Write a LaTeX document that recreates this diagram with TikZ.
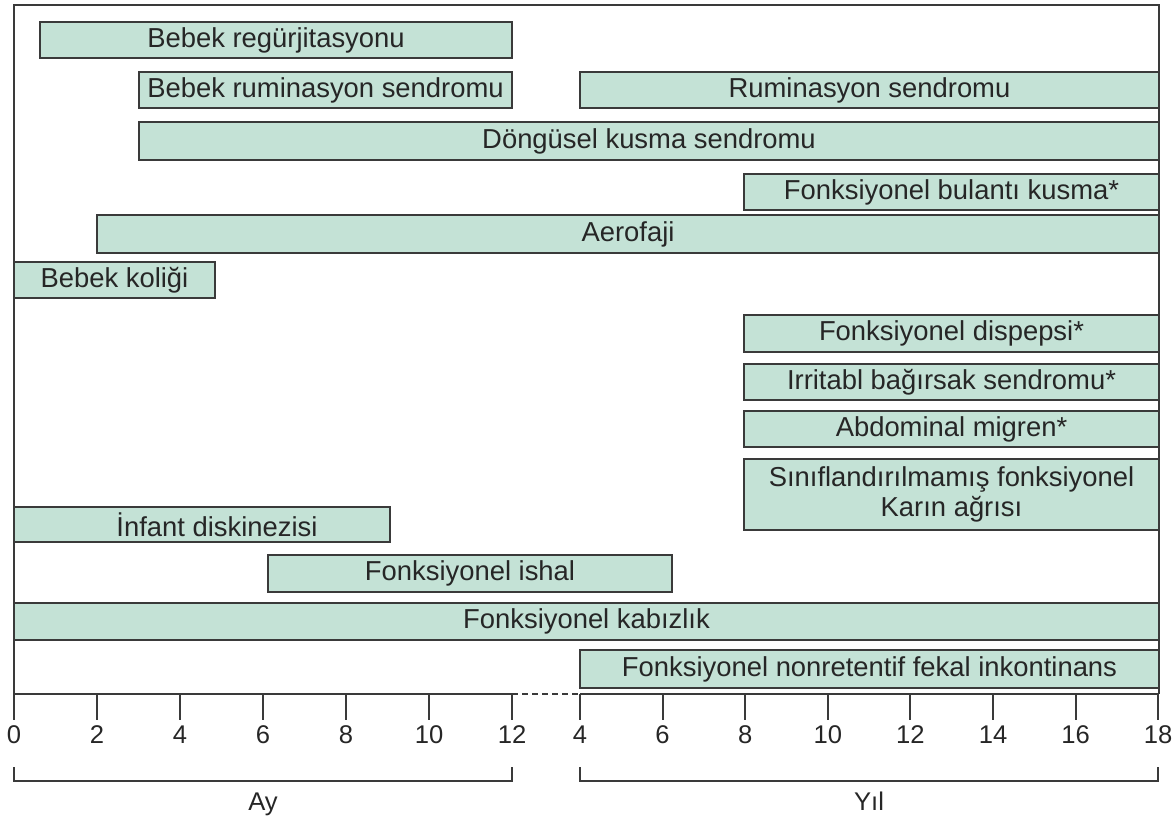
\documentclass[tikz,border=0pt]{standalone}
\usepackage{fontspec}
\setmainfont{Liberation Sans}
\usetikzlibrary{positioning}
\definecolor{fmint}{HTML}{C4E2D6}
\definecolor{fline}{HTML}{3A3A3A}
\definecolor{ftext}{HTML}{262626}
\tikzset{
  band/.style      = {draw=fline, fill=fmint, line width=1pt},
  bandtext/.style  = {text=ftext, font=\fontsize{13.7}{15}\selectfont, align=center, inner sep=0pt},
  tick/.style      = {draw=fline, line width=1pt},
  ticklabel/.style = {text=ftext, font=\fontsize{12.8}{14}\selectfont, inner sep=2.5pt},
}

\begin{document}
\begin{tikzpicture}[x=0.5pt,y=-0.5pt]
\useasboundingbox (0,0) rectangle (1173,819);
% frame
\draw[tick] (14,694) -- (14,5) -- (1159,5) -- (1159,694);
% bars: name / left / top / right / bottom / label
\foreach \nm/\xa/\ya/\xb/\yb/\txt in {
    regurj/40/22/512/58/Bebek regürjitasyonu,
    bebrum/139/72/512/108/Bebek ruminasyon sendromu,
    rum/580/72/1159/108/Ruminasyon sendromu,
    dongu/139/122/1159/160/Döngüsel kusma sendromu,
    bulanti/744/174/1159/210/Fonksiyonel bulantı kusma*,
    aero/97/215/1159/253/Aerofaji,
    kolik/14/262/215/298/Bebek koliği,
    dispep/744/315/1159/352/Fonksiyonel dispepsi*,
    ibs/744/364/1159/400/Irritabl bağırsak sendromu*,
    migren/744/411/1159/447/Abdominal migren*,
    sinif/744/459/1159/530/Sınıflandırılmamış fonksiyonel\\Karın ağrısı,
    ishal/268/555/672/592/Fonksiyonel ishal,
    kabiz/14/603/1159/640/Fonksiyonel kabızlık,
    fekal/580/650/1159/688/Fonksiyonel nonretentif fekal inkontinans}{%
  \path[band] (\xa,\ya) rectangle (\xb,\yb);
  \node[bandtext] (\nm) at ({(\xa+\xb)/2},{(\ya+\yb)/2}) {\txt};}
% this one has its label a little right of centre
\path[band] (14,507) rectangle (390,542);
\node[bandtext] (diskin) at (217,524.5) {İnfant diskinezisi};
% time axis, months then years
\draw[tick] (14,694) -- (512,694);
\draw[tick,dash pattern=on 3pt off 2pt] (512,694) -- (580,694);
\draw[tick] (580,694) -- (1159,694);
\foreach \m in {0,2,...,12}
  \draw[tick] ({14+41.5*\m},694) -- ++(0,26) node[ticklabel,below] {\m};
\foreach \y in {4,6,...,18}
  \draw[tick] ({580+41.3*(\y-4)},694) -- ++(0,26) node[ticklabel,below] {\y};
% brackets
\draw[tick] (14,767) -- (14,781) -- (512,781) -- (512,767);
\draw[tick] (580,767) -- (580,781) -- (1158,781) -- (1158,767);
\coordinate (aymid) at (263,781);
\coordinate (yilmid) at (869,781);
\node[ticklabel,below=3pt of aymid] (ay) {Ay};
\node[ticklabel,below=3pt of yilmid] (yil) {Yıl};
\end{tikzpicture}
\end{document}
